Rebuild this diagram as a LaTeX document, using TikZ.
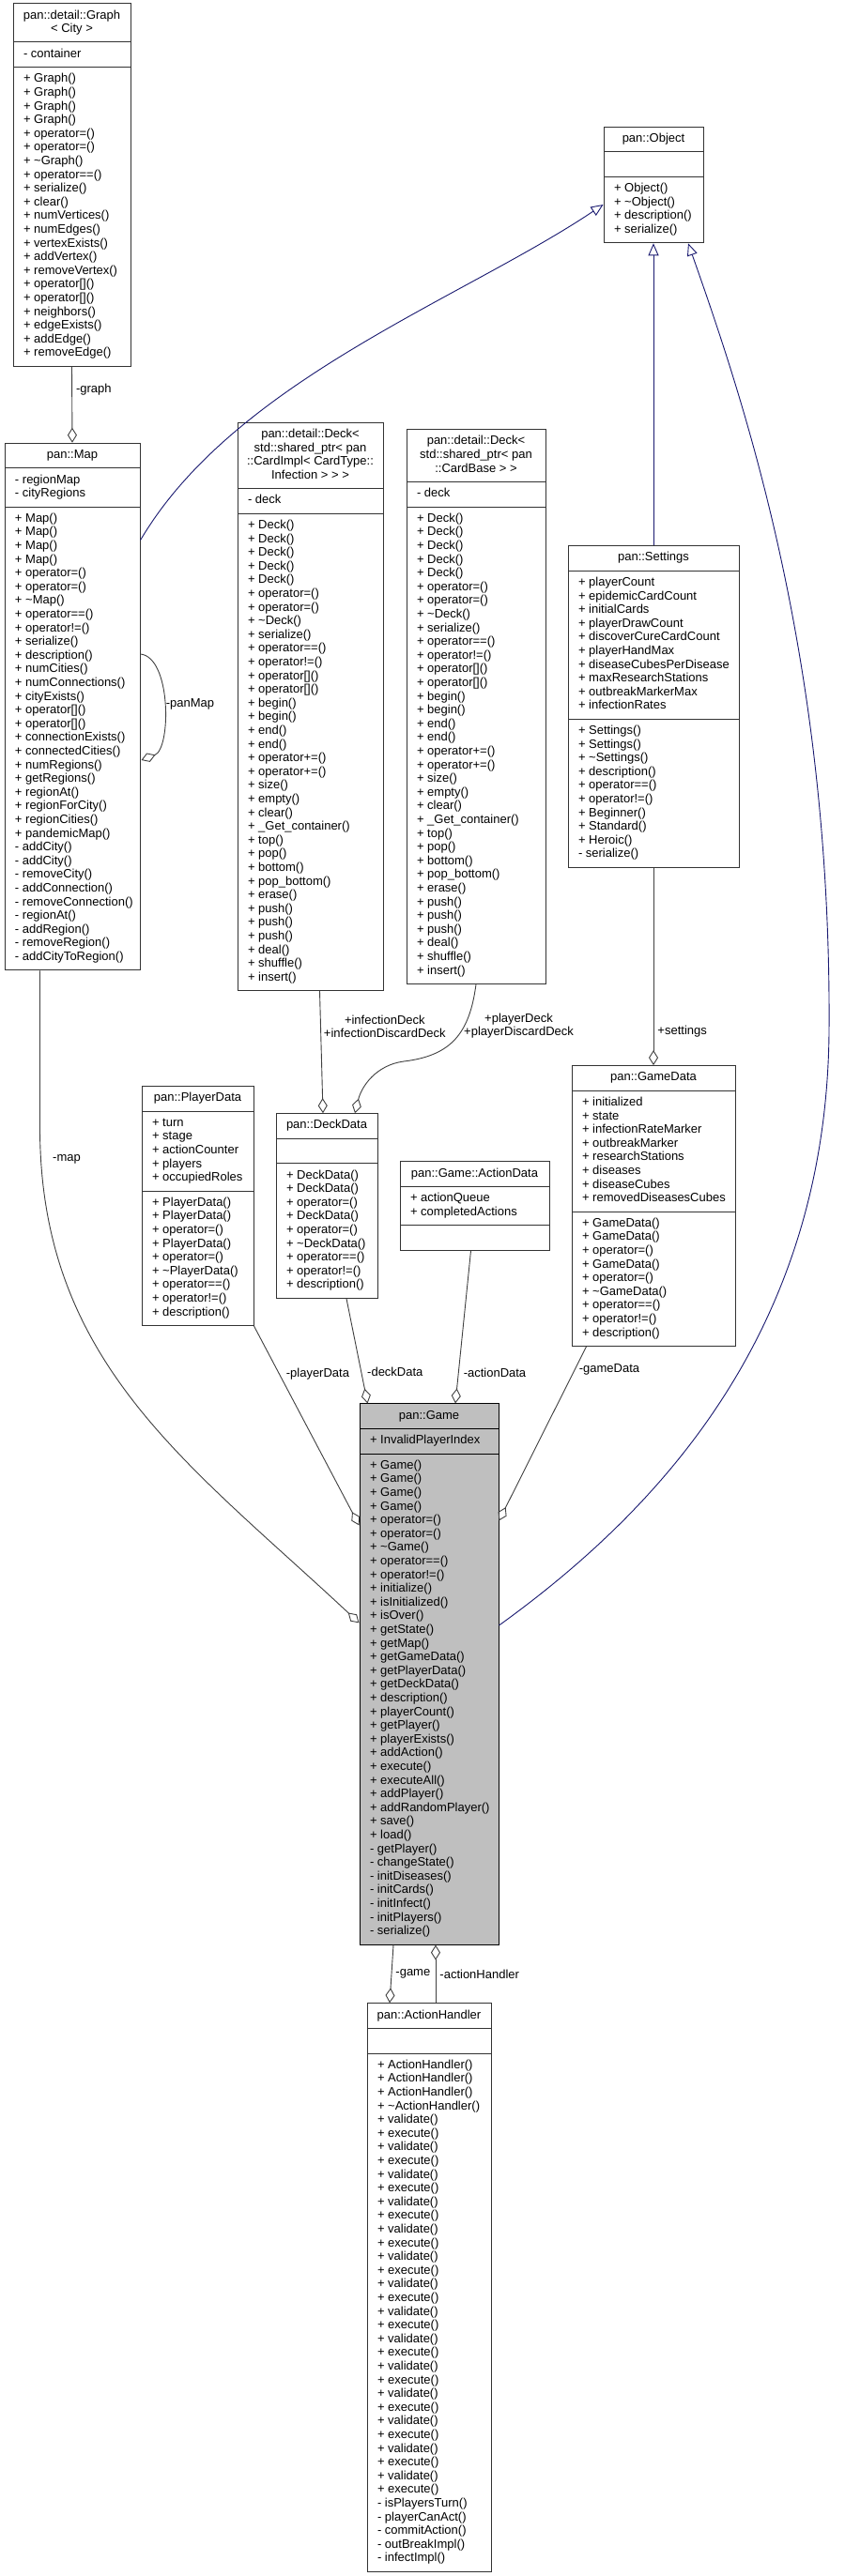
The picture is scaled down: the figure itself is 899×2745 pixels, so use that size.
\documentclass[tikz,border=0pt]{standalone}
\usepackage{fontspec}
\setmainfont{Liberation Sans}
\usetikzlibrary{arrows.meta,shapes.multipart,calc}
\definecolor{edgeblue}{RGB}{25,25,112}
\definecolor{edgegrey}{RGB}{64,64,64}
\definecolor{gamegrey}{RGB}{191,191,191}
\newcommand{\umlfont}{\fontsize{13}{14.6}\selectfont}
% class box parts: width in pt, then the rows (no line breaking)
\newcommand{\ctitle}[2]{\makebox[#1pt][c]{\begin{tabular}{@{}c@{}}#2\end{tabular}}}
\newcommand{\crows}[2]{\makebox[#1pt][l]{\begin{tabular}{@{}l@{}}\strut#2\end{tabular}}}
% both deck classes list the same members
\newcommand{\deckmethods}{+ Deck()\\+ Deck()\\+ Deck()\\+ Deck()\\+ Deck()\\+ operator=()\\+ operator=()\\+ \textasciitilde Deck()\\+ serialize()\\+ operator==()\\+ operator!=()\\+ operator[]()\\+ operator[]()\\+ begin()\\+ begin()\\+ end()\\+ end()\\+ operator+=()\\+ operator+=()\\+ size()\\+ empty()\\+ clear()\\+ \_Get\_container()\\+ top()\\+ pop()\\+ bottom()\\+ pop\_bottom()\\+ erase()\\+ push()\\+ push()\\+ push()\\+ deal()\\+ shuffle()\\+ insert()}

\tikzset{
  umlclass/.style={rectangle split, rectangle split parts=3, draw=black!80, fill=white,
    line width=1pt, inner xsep=11pt, inner ysep=5.5pt, font=\umlfont},
  focusclass/.style={umlclass, fill=gamegrey, draw=black},
  uses/.style={draw=edgegrey, line width=0.9pt, -{Diamond[open,length=16pt,width=10pt]}},
  isa/.style={draw=edgeblue, line width=0.9pt, -{Triangle[open,length=13pt,width=11pt]}},
  rolename/.style={font=\umlfont, inner sep=0pt, anchor=west}
}

\begin{document}
\begin{tikzpicture}[x=1pt,y=-1pt]
  \path[use as bounding box, fill=white] (0,0) rectangle (899,2745);

  % top rank
  \node[umlclass] (graph) at (76.5,197) {\ctitle{103}{pan::detail::Graph\\< City >}
    \nodepart{two}\crows{103}{- container}
    \nodepart{three}\crows{103}{+ Graph()\\+ Graph()\\+ Graph()\\+ Graph()\\+ operator=()\\+ operator=()\\+ \textasciitilde Graph()\\+ operator==()\\+ serialize()\\+ clear()\\+ numVertices()\\+ numEdges()\\+ vertexExists()\\+ addVertex()\\+ removeVertex()\\+ operator[]()\\+ operator[]()\\+ neighbors()\\+ edgeExists()\\+ addEdge()\\+ removeEdge()}};
  \node[umlclass] (object) at (696,197) {\ctitle{84}{pan::Object}
    \nodepart{two}\crows{84}{}
    \nodepart{three}\crows{84}{+ Object()\\+ \textasciitilde Object()\\+ description()\\+ serialize()}};

  % second rank
  \node[umlclass] (map) at (77,753) {\ctitle{122}{pan::Map}
    \nodepart{two}\crows{122}{- regionMap\\- cityRegions}
    \nodepart{three}\crows{122}{+ Map()\\+ Map()\\+ Map()\\+ Map()\\+ operator=()\\+ operator=()\\+ \textasciitilde Map()\\+ operator==()\\+ operator!=()\\+ serialize()\\+ description()\\+ numCities()\\+ numConnections()\\+ cityExists()\\+ operator[]()\\+ operator[]()\\+ connectionExists()\\+ connectedCities()\\+ numRegions()\\+ getRegions()\\+ regionAt()\\+ regionForCity()\\+ regionCities()\\+ pandemicMap()\\- addCity()\\- addCity()\\- removeCity()\\- addConnection()\\- removeConnection()\\- regionAt()\\- addRegion()\\- removeRegion()\\- addCityToRegion()}};
  \node[umlclass] (deckinf) at (330.5,753) {\ctitle{133}{pan::detail::Deck<\\std::shared\_ptr< pan\\::CardImpl< CardType::\\Infection > > >}
    \nodepart{two}\crows{133}{- deck}
    \nodepart{three}\crows{133}{\deckmethods}};
  \node[umlclass] (deckcard) at (507,753) {\ctitle{126}{pan::detail::Deck<\\std::shared\_ptr< pan\\::CardBase > >}
    \nodepart{two}\crows{126}{- deck}
    \nodepart{three}\crows{126}{\deckmethods}};
  \node[umlclass] (settings) at (696,753) {\ctitle{160}{pan::Settings}
    \nodepart{two}\crows{160}{+ playerCount\\+ epidemicCardCount\\+ initialCards\\+ playerDrawCount\\+ discoverCureCardCount\\+ playerHandMax\\+ diseaseCubesPerDisease\\+ maxResearchStations\\+ outbreakMarkerMax\\+ infectionRates}
    \nodepart{three}\crows{160}{+ Settings()\\+ Settings()\\+ \textasciitilde Settings()\\+ description()\\+ operator==()\\+ operator!=()\\+ Beginner()\\+ Standard()\\+ Heroic()\\- serialize()}};

  % third rank
  \node[umlclass] (playerdata) at (210.5,1285) {\ctitle{97}{pan::PlayerData}
    \nodepart{two}\crows{97}{+ turn\\+ stage\\+ actionCounter\\+ players\\+ occupiedRoles}
    \nodepart{three}\crows{97}{+ PlayerData()\\+ PlayerData()\\+ operator=()\\+ PlayerData()\\+ operator=()\\+ \textasciitilde PlayerData()\\+ operator==()\\+ operator!=()\\+ description()}};
  \node[umlclass] (deckdata) at (348,1285) {\ctitle{86}{pan::DeckData}
    \nodepart{two}\crows{86}{}
    \nodepart{three}\crows{86}{+ DeckData()\\+ DeckData()\\+ operator=()\\+ DeckData()\\+ operator=()\\+ \textasciitilde DeckData()\\+ operator==()\\+ operator!=()\\+ description()}};
  \node[umlclass] (actiondata) at (505.5,1285) {\ctitle{137}{pan::Game::ActionData}
    \nodepart{two}\crows{137}{+ actionQueue\\+ completedActions}
    \nodepart{three}\crows{137}{}};
  \node[umlclass] (gamedata) at (696,1285) {\ctitle{152}{pan::GameData}
    \nodepart{two}\crows{152}{+ initialized\\+ state\\+ infectionRateMarker\\+ outbreakMarker\\+ researchStations\\+ diseases\\+ diseaseCubes\\+ removedDiseasesCubes}
    \nodepart{three}\crows{152}{+ GameData()\\+ GameData()\\+ operator=()\\+ GameData()\\+ operator=()\\+ \textasciitilde GameData()\\+ operator==()\\+ operator!=()\\+ description()}};

  % the documented class
  \node[focusclass] (game) at (457,1784) {\ctitle{126}{pan::Game}
    \nodepart{two}\crows{126}{+ InvalidPlayerIndex}
    \nodepart{three}\crows{126}{+ Game()\\+ Game()\\+ Game()\\+ Game()\\+ operator=()\\+ operator=()\\+ \textasciitilde Game()\\+ operator==()\\+ operator!=()\\+ initialize()\\+ isInitialized()\\+ isOver()\\+ getState()\\+ getMap()\\+ getGameData()\\+ getPlayerData()\\+ getDeckData()\\+ description()\\+ playerCount()\\+ getPlayer()\\+ playerExists()\\+ addAction()\\+ execute()\\+ executeAll()\\+ addPlayer()\\+ addRandomPlayer()\\+ save()\\+ load()\\- getPlayer()\\- changeState()\\- initDiseases()\\- initCards()\\- initInfect()\\- initPlayers()\\- serialize()}};
  \node[umlclass] (handler) at (457,2437.5) {\ctitle{110}{pan::ActionHandler}
    \nodepart{two}\crows{110}{}
    \nodepart{three}\crows{110}{+ ActionHandler()\\+ ActionHandler()\\+ ActionHandler()\\+ \textasciitilde ActionHandler()\\+ validate()\\+ execute()\\+ validate()\\+ execute()\\+ validate()\\+ execute()\\+ validate()\\+ execute()\\+ validate()\\+ execute()\\+ validate()\\+ execute()\\+ validate()\\+ execute()\\+ validate()\\+ execute()\\+ validate()\\+ execute()\\+ validate()\\+ execute()\\+ validate()\\+ execute()\\+ validate()\\+ execute()\\+ validate()\\+ execute()\\+ validate()\\+ execute()\\- isPlayersTurn()\\- playerCanAct()\\- commitAction()\\- outBreakImpl()\\- infectImpl()}};

  % inheritance
  \draw[isa] ($(map.north east)+(0,104)$) .. controls +(100,-170) and +(-150,100.5) .. ($(object.west)+(0,21)$);
  \draw[isa] (settings.north) -- (object.south);
  \coordinate (rbend) at (883,1100);
  \draw[isa] ($(game.east)+(0,-52)$) .. controls +(169,-122) and +(-3,320) .. (rbend)
    .. controls +(3,-400) and +(57,162) .. ($(object.south)+(37,0)$);

  % members
  \draw[uses] (graph.south) -- node[rolename, pos=0.3, xshift=4pt] {-graph} (map.north);
  \draw[uses] ($(map.east)+(0,-56)$) .. controls +(33,3) and +(32,-12) .. node[rolename, xshift=2pt] {-panMap} ($(map.east)+(1,57)$);
  \draw[uses] (settings.south) -- node[rolename, pos=0.83, xshift=4pt] {+settings} (gamedata.north);
  \draw[uses] ($(deckinf.south)+(10,0)$) -- node[rolename, align=center, pos=0.29, xshift=3pt] {+infectionDeck\\+infectionDiscardDeck} ($(deckdata.north)+(-4,0)$);
  \coordinate (cbend) at (430,1131);
  \draw[uses] (deckcard.south) .. controls +(-7,53) and +(50,-6) .. (cbend)
    .. controls +(-30,4) and +(7,-28) .. ($(deckdata.north)+(30,0)$);
  \node[rolename, align=center] (cardlbl) at (494,1093) {+playerDeck\\+playerDiscardDeck};
  \draw[uses] ($(map.south west)+(38,0)$) -- ++(0,167) .. controls +(0,250) and +(-183,-171) .. ($(game.north west)+(0,234)$);
  \node[rolename] (maplbl) at (56,1235) {-map};
  \draw[uses] (playerdata.south east) -- node[rolename, pos=0.24, xshift=7pt] {-playerData} ($(game.north west)+(0,130)$);
  \draw[uses] ($(deckdata.south)+(21,0)$) -- node[rolename, pos=0.7, xshift=6pt] {-deckData} ($(game.north west)+(9,0)$);
  \draw[uses] ($(actiondata.south)+(-4,0)$) -- node[rolename, pos=0.8, xshift=5pt] {-actionData} ($(game.north)+(28,0)$);
  \draw[uses] ($(gamedata.south west)+(16,0)$) -- node[rolename, pos=0.13, xshift=4pt] {-gameData} ($(game.north east)+(0,125)$);
  \draw[uses] ($(game.south)+(-38,0)$) -- node[rolename, midway, xshift=4pt] {-game} ($(handler.north)+(-42,0)$);
  \draw[uses] ($(handler.north)+(7,0)$) -- node[rolename, midway, xshift=4pt] {-actionHandler} ($(game.south)+(7,0)$);
\end{tikzpicture}
\end{document}
